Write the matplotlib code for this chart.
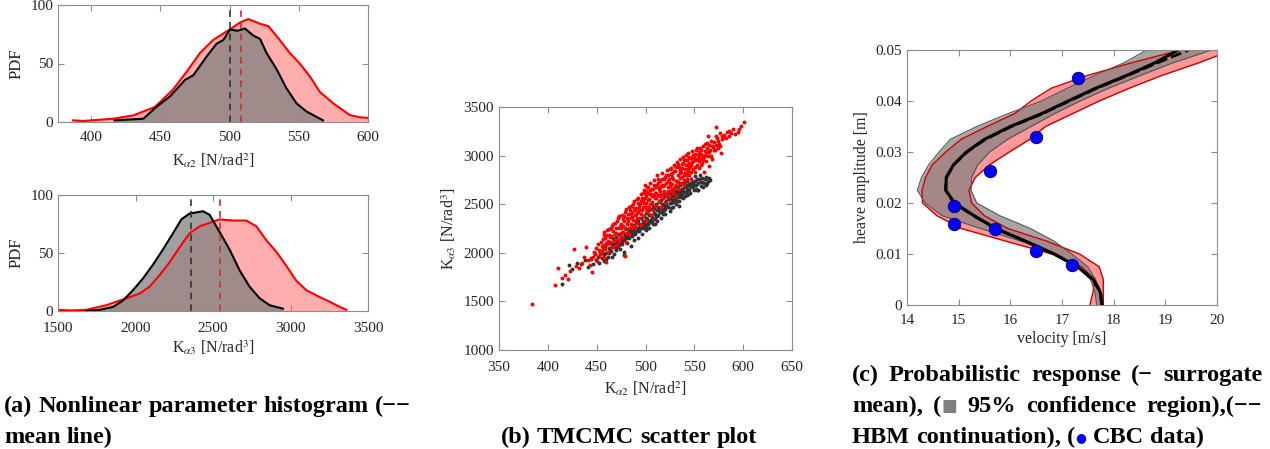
import matplotlib
matplotlib.use('Agg')
import matplotlib.pyplot as plt

plt.rcParams['font.family'] = ['Liberation Serif', 'DejaVu Serif']
plt.rcParams['mathtext.fontset'] = 'stix'
plt.rcParams['font.size'] = 11

# ---------------- (a) histograms ----------------
k2_red_x = [386.8, 394.5, 416, 430.5, 446, 459, 469, 478.6, 488, 500, 507.5, 513.5, 522, 528,
            536.3, 543.5, 550.7, 558, 565, 574.8, 586.8, 594, 600]
k2_red_pdf = [1.4, 0.9, 2.8, 5.7, 12.8, 27.6, 43, 59, 70, 79, 85, 88, 84, 82, 70, 59, 50, 39, 26,
              16, 6, 4, 3.5]
k2_black_x = [416.8, 437.7, 447, 457, 467.8, 473.8, 483.4, 490.6, 495.4, 500.2, 506, 511, 517,
              522, 526.7, 534, 541, 548.3, 555.5, 567.5]
k2_black_pdf = [1.4, 2.8, 12.8, 22, 36, 40, 56, 67, 70, 79, 78, 80, 74, 71, 59, 45, 29, 16, 9, 1.4]
k2_mean_black = 500
k2_mean_red = 508.5

k3_red_x = [1500, 1580, 1683, 1812, 1941, 2027, 2091, 2156, 2220, 2285, 2349, 2414, 2500, 2543,
            2629, 2715, 2780, 2844, 2909, 2973, 3038, 3102, 3188, 3253, 3296, 3360]
k3_red_pdf = [1, 0.5, 1, 5, 11, 15, 21, 31, 42, 55, 67, 73, 77, 79, 78, 78, 73, 61, 51, 39, 26, 18,
              12, 8, 5, 1]
k3_black_x = [1683, 1769, 1855, 1919, 1984, 2048, 2113, 2177, 2242, 2296, 2349, 2392, 2435, 2478,
              2543, 2607, 2672, 2736, 2801, 2865, 2951]
k3_black_pdf = [0, 1, 3.5, 9, 18, 28, 40, 53, 67, 79, 84, 85, 86, 83, 68, 53, 35, 21, 11, 5, 2]
k3_mean_black = 2355
k3_mean_red = 2548

# ---------------- (b) scatter ----------------
red_pts = [(384,1470),(407,1665),(410,1845),(414,1740),(418,1775),(421,1735),(423,1815),(427,2040),
 (429,1865),(432,1840),(435,1900),(437,1955),(439,2060),(441,1925),(443,1875),(445,1800),(446,1960),
 (447,2010),(449,2050),(450,1915),(451,2095),(453,1985),(452,1970),(454,2000),(455,2075),(456,2140),
 (457,1960),(458,2215),(459,2040),(460,2105),(460,1910),(461,2180),(462,2010),(463,2240),(464,2160),
 (465,2060),(466,2280),(467,2225),(468,2125),(469,2310),(470,2200),(471,2080),(472,2355),(473,2255),
 (474,2170),(475,2300),(476,2390),(477,2215),(478,2330),(479,2260),(479,1970),(480,2450),(480,2110),
 (481,2300),(482,2400),(483,2195),(484,2360),(485,2480),(486,2270),(486,2420),(487,2340),(488,2530),
 (489,2250),(489,2390),(490,2460),(491,2310),(492,2560),(492,2420),(493,2360),(494,2500),(495,2600),
 (495,2290),(496,2440),(497,2540),(498,2380),(498,2650),(499,2470),(500,2580),(500,2330),(501,2510),
 (502,2420),(502,2680),(503,2620),(504,2460),(504,2550),(505,2720),(506,2390),(506,2600),(507,2500),
 (508,2660),(508,2440),(509,2750),(510,2560),(510,2620),(511,2480),(512,2700),(512,2800),(513,2590),
 (514,2530),(514,2660),(515,2740),(516,2470),(516,2610),(517,2820),(518,2690),(518,2560),(519,2640),
 (520,2780),(520,2520),(521,2720),(522,2600),(522,2850),(523,2680),(524,2760),(524,2570),(525,2640),
 (526,2810),(526,2870),(527,2710),(528,2620),(528,2760),(529,2900),(530,2680),(530,2840),(531,2580),
 (532,2740),(532,2930),(533,2800),(534,2660),(534,2880),(535,2960),(536,2720),(536,2830),(537,2780),
 (538,2920),(538,2990),(539,2700),(540,2860),(540,2820),(541,3010),(542,2760),(542,2900),(543,2950),
 (544,2840),(544,3030),(545,2800),(546,2890),(546,2980),(547,2760),(548,2930),(548,3050),(549,2860),
 (550,2990),(551,2830),(552,2950),(552,3060),(553,2900),(554,3010),(555,2870),(556,2960),(556,3080),
 (557,3020),(558,2920),(559,3100),(560,2990),(560,2830),(561,3050),(562,2940),(563,3130),(564,3000),
 (564,3200),(565,2890),(566,3060),(567,3150),(568,2970),(569,3090),(571,3060),(572,3290),(573,3180),
 (575,3120),(576,3230),(577,3030),(578,3170),(580,3210),(586,3250),(588,3230),(590,3270),(592,3225),
 (595,3240),(598,3300),(601,3350),
 (462,2120),(466,2170),(470,2250),(474,2280),(478,2380),(482,2330),(484,2440),(486,2370),(488,2460),
 (490,2400),(492,2510),(494,2440),(496,2560),(498,2510),(500,2640),(501,2450),(503,2540),(505,2600),
 (507,2660),(509,2590),(511,2680),(513,2720),(515,2580),(517,2700),(519,2760),(521,2610),(523,2800),
 (525,2720),(527,2820),(529,2670),(531,2880),(533,2730),(535,2850),(537,2910),(539,2800),(541,2950),
 (543,2860),(545,2920),(547,2980),(549,2940),(551,3020),(553,2960),(555,3040),(557,2900),(559,3000),
 (561,3120),(563,3040),(565,3110),(567,3000),(570,3140),(574,3080),(458,2080),(455,2010),(463,2100),
 (467,2060),(471,2140),(475,2200),(477,2280),(481,2200),(485,2300),(489,2330),(493,2460),(497,2470),
 (499,2700),(505,2500),(515,2680),(525,2690),(535,2770),(545,2870),(555,2940),(565,3040),(572,3110),
 (579,3190),(583,3240),(596,3270),
 (456,2050),(459,2150),(461,2230),(463,2180),(465,2250),(467,2300),(469,2190),(471,2330),(473,2380),
 (475,2250),(477,2350),(479,2420),(481,2360),(483,2470),(485,2400),(487,2500),(489,2440),(491,2550),
 (493,2490),(495,2530),(497,2620),(499,2560),(501,2600),(503,2680),(505,2650),(507,2580),(509,2700),
 (511,2620),(513,2760),(515,2640),(517,2760),(519,2700),(521,2800),(523,2740),(525,2860),(527,2780),
 (529,2840),(531,2740),(533,2910),(535,2820),(537,2870),(539,2950),(541,2900),(543,2820),(545,2990),
 (547,2900),(549,3010),(551,2960),(553,3080),(555,2990),(557,3060),(559,2950),(561,3010),(563,3080),
 (566,3000),(568,3100),(570,3060),(572,3200),(574,3150),(576,3100),(578,3200),(582,3180),(585,3200),
 (444,1940),(448,1990),(452,2030),(454,2110),(457,2180),(473,2120),(476,2160),(483,2260),(487,2280),
 (491,2360),(495,2400),(503,2470),(507,2520),(511,2560),(519,2600),(523,2640),(527,2660),(531,2700),
 (539,2750),(543,2800),(547,2830),(551,2880),(558,2970)]
black_pts = [(415,1680),(422,1870),(425,1830),(430,1900),(434,1880),(438,1930),(441,1850),(444,1950),
 (446,1880),(448,1990),(449,1930),(451,1960),(452,1900),(453,2010),(455,1950),(456,2040),(457,1990),
 (458,1920),(459,2060),(460,2000),(460,1940),(461,2090),(462,1960),(463,2050),(464,2110),(465,2020),
 (466,2080),(466,1960),(467,2140),(468,1990),(469,2100),(470,2160),(470,2030),(471,2060),(472,2120),
 (473,2190),(474,2040),(475,2150),(476,2090),(477,2210),(478,2130),(478,2010),(478,1980),(479,2180),
 (480,2240),(481,2100),(482,2200),(483,2150),(484,2260),(485,2070),(485,2220),(486,2170),(487,2290),
 (488,2130),(488,2240),(489,2190),(490,2310),(491,2260),(492,2150),(492,2330),(493,2220),(494,2280),
 (495,2360),(496,2190),(496,2300),(497,2250),(498,2380),(499,2320),(500,2230),(500,2410),(501,2280),
 (502,2350),(503,2430),(504,2260),(504,2390),(505,2320),(506,2450),(507,2370),(508,2300),(508,2480),
 (509,2410),(510,2350),(511,2500),(512,2330),(512,2440),(513,2390),(514,2520),(515,2460),(516,2360),
 (516,2540),(517,2420),(518,2490),(519,2570),(520,2400),(520,2450),(521,2530),(522,2590),(523,2470),
 (524,2550),(525,2430),(525,2620),(526,2510),(527,2580),(528,2470),(528,2650),(529,2540),(530,2610),
 (531,2500),(532,2680),(532,2570),(533,2630),(534,2530),(535,2700),(536,2600),(537,2660),(538,2560),
 (539,2720),(540,2630),(541,2690),(542,2590),(543,2740),(544,2660),(545,2710),(546,2620),(547,2760),
 (548,2680),(549,2730),(550,2650),(551,2790),(552,2700),(553,2760),(553,2650),(554,2650),(556,2800),
 (557,2730),(558,2770),(560,2720),(562,2780),(564,2740),(566,2750),
 (474,2110),(482,2160),(486,2210),(490,2230),(494,2250),(498,2290),(502,2310),(506,2340),(510,2400),
 (514,2430),(518,2450),(522,2480),(526,2550),(530,2560),(534,2600),(538,2640),(542,2660),(546,2690),
 (550,2700),(554,2720),(558,2730),(562,2700),(468,2060),(464,2030),(476,2120),(480,2150),(484,2190),
 (488,2210),(496,2270),(504,2330),(512,2380),(520,2480),(528,2520),(536,2570),(544,2610),(552,2660),
 (559,2680),(540,2580),(532,2530),
 (455,2000),(463,2000),(467,2090),(471,2110),(473,2080),(477,2160),(481,2190),(483,2230),(487,2200),
 (489,2270),(491,2220),(493,2300),(495,2250),(497,2330),(499,2280),(501,2360),(503,2300),(505,2390),
 (507,2330),(509,2450),(511,2380),(513,2470),(515,2420),(517,2500),(519,2440),(521,2500),(523,2560),
 (525,2510),(527,2620),(529,2590),(531,2640),(533,2570),(535,2640),(537,2610),(539,2680),(541,2630),
 (543,2700),(545,2650),(547,2720),(549,2690),(551,2740),(555,2760),(557,2690),(561,2760),(563,2720),
 (565,2770),(534,2480),(526,2460),(518,2400),(510,2300),(502,2260)]
red_k2 = [p[0] for p in red_pts]
red_k3 = [p[1] for p in red_pts]
black_k2 = [p[0] for p in black_pts]
black_k3 = [p[1] for p in black_pts]

# ---------------- (c) probabilistic response ----------------
amp = [0, 0.0025, 0.005, 0.0075, 0.01, 0.0125, 0.015, 0.0175, 0.02, 0.0225, 0.025, 0.0275, 0.03,
       0.0325, 0.035, 0.0375, 0.04, 0.0425, 0.045, 0.0475, 0.05]
surr_mean = [17.77, 17.74, 17.6, 17.3, 16.85, 16.3, 15.72, 15.3, 14.92, 14.75, 14.76, 14.9, 15.15,
             15.5, 16.0, 16.6, 17.12, 17.65, 18.25, 18.8, 19.25]
hbm_cont = [17.78, 17.75, 17.61, 17.3, 16.84, 16.29, 15.71, 15.29, 14.91, 14.75, 14.76, 14.91,
            15.16, 15.52, 16.02, 16.62, 17.14, 17.67, 18.27, 18.85, 19.45]
gray_lo = [17.67, 17.64, 17.55, 17.3, 16.89, 16.21, 15.42, 14.68, 14.35, 14.2, 14.28, 14.42, 14.62,
           14.84, 15.35, 15.95, 16.6, 17.1, 17.63, 18.2, 18.64]
gray_hi = [17.77, 17.75, 17.65, 17.5, 17.19, 16.85, 16.39, 15.8, 15.35, 15.24, 15.25, 15.37, 15.6,
           15.95, 16.4, 16.85, 17.35, 17.9, 18.52, 19.15, 19.9]
red_lo = [17.54, 17.6, 17.63, 17.38, 16.8, 15.92, 15.05, 14.58, 14.3, 14.29, 14.36, 14.49, 14.75,
          15.05, 15.55, 16.08, 16.4, 16.79, 17.49, 18.35, 19.3]
red_hi = [17.8, 17.8, 17.8, 17.72, 17.34, 16.71, 15.95, 15.5, 15.25, 15.2, 15.32, 15.6, 15.98,
          16.38, 16.68, 17.2, 17.72, 18.3, 18.93, 19.65, 20.3]
cbc_vel = [17.3, 16.5, 15.6, 14.9, 14.9, 15.7, 16.5, 17.2]
cbc_amp = [0.0445, 0.0330, 0.0262, 0.0195, 0.0158, 0.0149, 0.0105, 0.0078]

W, H = 1270, 449
fig = plt.figure(figsize=(W / 100, H / 100), dpi=100)

SPINE = '#8c8c8c'
TXT = '#262626'


def style(ax, xpad=6.5):
    for s in ax.spines.values():
        s.set_color(SPINE)
        s.set_linewidth(0.8)
    ax.tick_params(direction='in', top=True, right=True, length=4, width=0.8,
                   color=SPINE, labelcolor=TXT, labelsize=11)
    ax.tick_params(axis='x', pad=xpad)
    ax.xaxis.label.set_color(TXT)
    ax.yaxis.label.set_color(TXT)


def box(l, t, r, b):
    return [l / W, (H - b) / H, (r - l) / W, (b - t) / H]


RED_FILL = (1.0, 0.0, 0.0, 0.32)
GRAY_FILL = (0.5, 0.5, 0.5, 0.75)

# (a) top
ax1 = fig.add_axes(box(58, 5, 368, 122))
ax1.fill_between(k2_red_x, k2_red_pdf, 0, color=RED_FILL, lw=0)
ax1.plot(k2_red_x, k2_red_pdf, color='red', lw=1.5)
ax1.fill_between(k2_black_x, k2_black_pdf, 0, color=GRAY_FILL, lw=0)
ax1.plot(k2_black_x, k2_black_pdf, color='black', lw=1.5)
ax1.plot([k2_mean_black] * 2, [0, 100], color='#333333', ls=(0, (4, 3)), lw=1.2)
ax1.plot([k2_mean_red] * 2, [0, 100], color='#c83232', ls=(0, (4, 3)), lw=1.2)
ax1.set_xlim(376, 600)
ax1.set_ylim(0, 100)
ax1.set_xticks([400, 450, 500, 550, 600])
ax1.set_yticks([0, 50, 100])
ax1.set_ylabel('PDF', fontsize=12)
ax1.set_xlabel(r'K$_{\alpha 2}$ [N/rad$^2$]', fontsize=11.5, labelpad=5)
style(ax1)

# (a) bottom
ax2 = fig.add_axes(box(58, 195, 368, 311))
ax2.fill_between(k3_red_x, k3_red_pdf, 0, color=RED_FILL, lw=0)
ax2.plot(k3_red_x, k3_red_pdf, color='red', lw=1.5)
ax2.fill_between(k3_black_x, k3_black_pdf, 0, color=GRAY_FILL, lw=0)
ax2.plot(k3_black_x, k3_black_pdf, color='black', lw=1.5)
ax2.plot([k3_mean_black] * 2, [0, 100], color='#333333', ls=(0, (4, 3)), lw=1.2)
ax2.plot([k3_mean_red] * 2, [0, 100], color='#c83232', ls=(0, (4, 3)), lw=1.2)
ax2.set_xlim(1500, 3500)
ax2.set_ylim(0, 100)
ax2.set_xticks([1500, 2000, 2500, 3000, 3500])
ax2.set_yticks([0, 50, 100])
ax2.set_ylabel('PDF', fontsize=12)
ax2.set_xlabel(r'K$_{\alpha 3}$ [N/rad$^3$]', fontsize=11.5, labelpad=2)
style(ax2, xpad=8)

# (b)
ax3 = fig.add_axes(box(499, 107, 792, 350))
ax3.scatter(black_k2, black_k3, s=8, marker='o', color='#333333', linewidths=0)
ax3.scatter(red_k2, red_k3, s=8, marker='o', color='#ff0000', linewidths=0)
ax3.set_xlim(350, 650)
ax3.set_ylim(1000, 3500)
ax3.set_xticks([350, 400, 450, 500, 550, 600, 650])
ax3.set_yticks([1000, 1500, 2000, 2500, 3000, 3500])
ax3.set_xlabel(r'K$_{\alpha 2}$ [N/rad$^2$]', fontsize=11.5, labelpad=4)
ax3.set_ylabel(r'K$_{\alpha 3}$ [N/rad$^3$]', fontsize=11.5)
style(ax3, xpad=8)

# (c)
ax4 = fig.add_axes(box(907, 50, 1217, 305))
ax4.fill_betweenx(amp, red_lo, red_hi, color=(1.0, 0.0, 0.0, 0.4), lw=0)
ax4.plot(red_lo, amp, color='#d00000', lw=1.0)
ax4.plot(red_hi, amp, color='#d00000', lw=1.0)
ax4.fill_betweenx(amp, gray_lo, gray_hi, color=(0.5, 0.5, 0.5, 0.7), lw=0)
ax4.plot(gray_lo, amp, color='#555555', lw=0.8)
ax4.plot(gray_hi, amp, color='#555555', lw=0.8)
ax4.plot(surr_mean, amp, color='black', lw=2.2)
ax4.plot(hbm_cont, amp, color='black', lw=2.0, ls=(0, (4, 1.5)))
ax4.plot(cbc_vel, cbc_amp, 'o', color='#0000ff', mec='#000066', mew=0.6, ms=9, ls='none')
ax4.set_xlim(14, 20)
ax4.set_ylim(0, 0.05)
ax4.set_xticks([14, 15, 16, 17, 18, 19, 20])
ax4.set_yticks([0, 0.01, 0.02, 0.03, 0.04, 0.05])
ax4.set_yticklabels(['0', '0.01', '0.02', '0.03', '0.04', '0.05'])
ax4.set_xlabel('velocity [m/s]', fontsize=11.5, labelpad=3)
ax4.set_ylabel('heave amplitude [m]', fontsize=11.5)
style(ax4, xpad=6.5)

# ---------------- captions ----------------
fig.canvas.draw()
renderer = fig.canvas.get_renderer()
CAP = 17.5
SERIF = ['Liberation Serif', 'DejaVu Serif']


def seg_kw(seg):
    txt = seg[0]
    opts = seg[1] if len(seg) > 1 else {}
    return txt, dict(fontsize=opts.get('size', CAP), fontweight='bold',
                     color=opts.get('color', 'black'), family=opts.get('family', SERIF))


def measure(txt, kw):
    t = fig.text(0, 0, txt, **kw)
    w = t.get_window_extent(renderer).width
    t.remove()
    return w


space_w = measure('a a', seg_kw(('',))[1]) - measure('aa', seg_kw(('',))[1])


def draw_line(x0, base, words, x1=None):
    widths = []
    for word in words:
        ws = [measure(*seg_kw(s)) for s in word]
        widths.append(ws)
    totals = [sum(ws) for ws in widths]
    gap = space_w
    if x1 is not None and len(words) > 1:
        gap = max(space_w * 0.6, (x1 - x0 - sum(totals)) / (len(words) - 1))
    x = x0
    for word, ws in zip(words, widths):
        for s, w in zip(word, ws):
            txt, kw = seg_kw(s)
            yoff = s[1].get('dy', 0) if len(s) > 1 else 0
            fig.text(x / W, (H - base + yoff) / H, txt, va='baseline', ha='left', **kw)
            x += w
        x += gap


def words(sentence):
    return [[(w,)] for w in sentence.split(' ')]


B1, B2, B3 = 381, 412, 443
draw_line(4, B2, words('(a) Nonlinear parameter histogram (\u2212\u2212'), x1=411)
draw_line(4, B3, words('mean line)'))
draw_line(501, B3, words('(b) TMCMC scatter plot'))
draw_line(852, B1, words('(c) Probabilistic response (\u2212 surrogate'), x1=1262)
line2 = [[('mean),',)],
         [('(',), ('\u25a0', {'family': ['DejaVu Sans'], 'size': 12, 'color': '#7f7f7f', 'dy': 1})],
         [('95%',)], [('confidence',)], [('region),(\u2212\u2212',)]]
draw_line(852, B2, line2, x1=1262)
line3 = [[('HBM',)], [('continuation),',)],
         [('(',), ('\u25cf', {'family': ['DejaVu Sans'], 'size': 9, 'color': '#0000ff', 'dy': 2})],
         [('CBC',)], [('data)',)]]
draw_line(852, B3, line3)

fig.savefig('out.png', dpi=100)
